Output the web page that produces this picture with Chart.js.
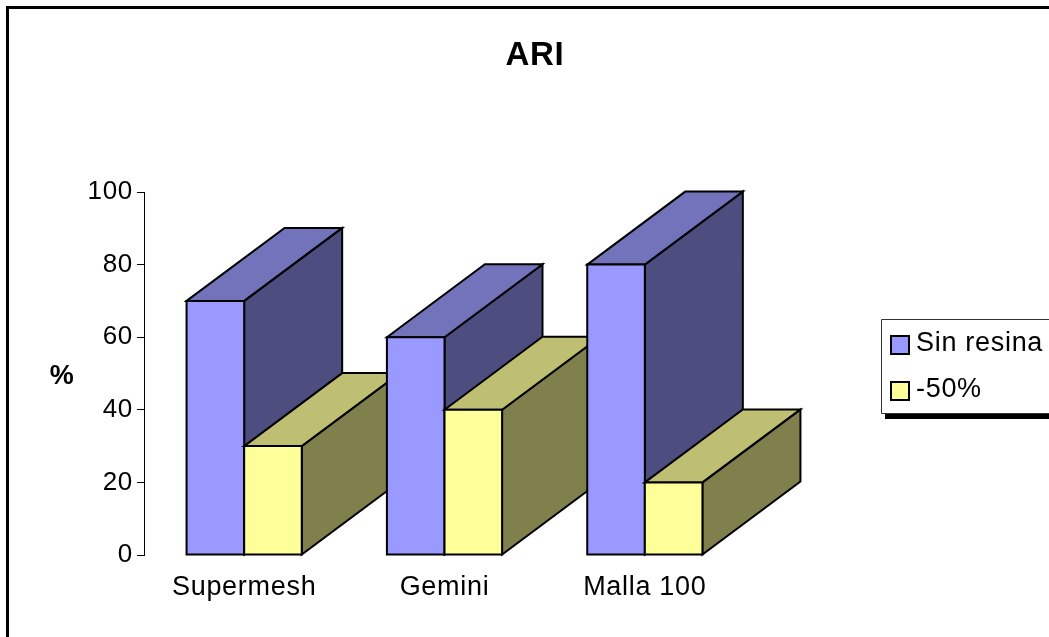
<!DOCTYPE html>
<html lang="es">
<head>
  <meta charset="UTF-8">
  <title>ARI</title>
  <script src="https://cdn.jsdelivr.net/npm/chart.js"></script>
  <style>
    html, body { margin: 0; padding: 0; background: #fff; overflow: hidden; }
    canvas { display: block; }
  </style>
</head>
<body>
  <canvas id="chart" width="1049" height="637"></canvas>

  <script>
    // Data
    const categories = ["Supermesh", "Gemini", "Malla 100"];
    const sinResina = [70, 60, 80];
    const menos50 = [30, 40, 20];
    const yTicks = [0, 20, 40, 60, 80, 100];

    const FONT = '"Liberation Sans", Arial, sans-serif';
    const DEPTH_X = 98;
    const DEPTH_Y = 73;

    // Front, top and side colours per series
    const shades = [
      { front: "#9999ff", top: "#7373bb", side: "#4d4d80" },
      { front: "#ffff99", top: "#bfbf73", side: "#80804d" },
    ];

    function poly(ctx, pts, fill) {
      ctx.beginPath();
      pts.forEach((p, i) => (i ? ctx.lineTo(p[0], p[1]) : ctx.moveTo(p[0], p[1])));
      ctx.closePath();
      ctx.fillStyle = fill;
      ctx.fill();
      ctx.stroke();
    }

    // Reference text runs slightly wider than Liberation Sans
    const spacing = {
      id: "spacing",
      beforeDraw(chart) {
        chart.ctx.letterSpacing = "0.7px";
      },
    };

    // Draws every bar as a box, category by category so nearer ones cover the previous
    const boxes = {
      id: "boxes",
      afterDatasetsDraw(chart) {
        const ctx = chart.ctx;
        ctx.save();
        ctx.strokeStyle = "#000";
        ctx.lineWidth = 2;
        ctx.lineJoin = "miter";
        categories.forEach((_, j) => {
          chart.data.datasets.forEach((ds, i) => {
            const bar = chart.getDatasetMeta(i).data[j];
            const l = bar.x - bar.width / 2;
            const r = bar.x + bar.width / 2;
            const t = bar.y;
            const b = bar.base;
            const s = shades[i];
            poly(ctx, [[r, t], [r + DEPTH_X, t - DEPTH_Y], [r + DEPTH_X, b - DEPTH_Y], [r, b]], s.side);
            poly(ctx, [[l, t], [l + DEPTH_X, t - DEPTH_Y], [r + DEPTH_X, t - DEPTH_Y], [r, t]], s.top);
            poly(ctx, [[l, t], [r, t], [r, b], [l, b]], s.front);
          });
        });
        ctx.restore();
      },
    };

    // Outer frame, title, unit label and the legend box (it runs off the right edge)
    const decor = {
      id: "decor",
      afterDraw(chart) {
        const ctx = chart.ctx;
        ctx.save();

        ctx.strokeStyle = "#000";
        ctx.lineWidth = 3;
        ctx.beginPath();
        ctx.moveTo(7.5, 637);
        ctx.lineTo(7.5, 7.5);
        ctx.lineTo(1049, 7.5);
        ctx.stroke();

        ctx.fillStyle = "#000";
        ctx.textAlign = "center";
        ctx.textBaseline = "alphabetic";
        ctx.font = "bold 33px " + FONT;
        ctx.fillText("ARI", 535, 65);
        ctx.font = "bold 27px " + FONT;
        ctx.fillText("%", 62, 384);

        ctx.fillStyle = "#000";
        ctx.fillRect(885, 413, 164, 6);
        ctx.fillStyle = "#fff";
        ctx.fillRect(881, 319, 168, 94);
        ctx.strokeStyle = "#333";
        ctx.lineWidth = 1;
        ctx.beginPath();
        ctx.moveTo(1049, 319.5);
        ctx.lineTo(881.5, 319.5);
        ctx.lineTo(881.5, 413.5);
        ctx.lineTo(1049, 413.5);
        ctx.stroke();

        ctx.textAlign = "left";
        ctx.font = "27px " + FONT;
        ctx.lineWidth = 2;
        ctx.strokeStyle = "#000";
        chart.data.datasets.forEach((ds, i) => {
          const top = 336 + i * 46;
          ctx.fillStyle = ds.backgroundColor;
          ctx.fillRect(891, top, 18, 18);
          ctx.strokeRect(891, top, 18, 18);
          ctx.fillStyle = "#000";
          ctx.fillText(ds.label, 916, top + 15);
        });
        ctx.restore();
      },
    };

    new Chart(document.getElementById("chart"), {
      type: "bar",
      data: {
        labels: categories,
        datasets: [
          { label: "Sin resina", data: sinResina, backgroundColor: shades[0].front },
          { label: "-50%", data: menos50, backgroundColor: shades[1].front },
        ],
      },
      options: {
        responsive: false,
        animation: false,
        devicePixelRatio: 1,
        layout: { padding: { top: 192, right: 304, bottom: 0, left: 0 } },
        datasets: { bar: { categoryPercentage: 0.575, barPercentage: 1 } },
        plugins: { legend: { display: false }, title: { display: false }, tooltip: { enabled: false } },
        scales: {
          x: {
            afterFit: (s) => { s.height = 82; },
            grid: { display: false },
            border: { display: false },
            ticks: {
              color: "#000",
              font: { family: FONT, size: 27 },
              padding: 8,
              maxRotation: 0,
              autoSkip: false,
            },
          },
          y: {
            min: 0,
            max: 100,
            afterFit: (s) => { s.width = 144; },
            afterBuildTicks: (s) => { s.ticks = yTicks.map((v) => ({ value: v })); },
            grid: { drawOnChartArea: false, tickLength: 7, tickColor: "#000", tickWidth: 1 },
            border: { color: "#000", width: 1 },
            ticks: {
              color: "#000",
              font: { family: FONT, size: 26 },
              padding: 4,
            },
          },
        },
      },
      plugins: [spacing, boxes, decor],
    });
  </script>
</body>
</html>
